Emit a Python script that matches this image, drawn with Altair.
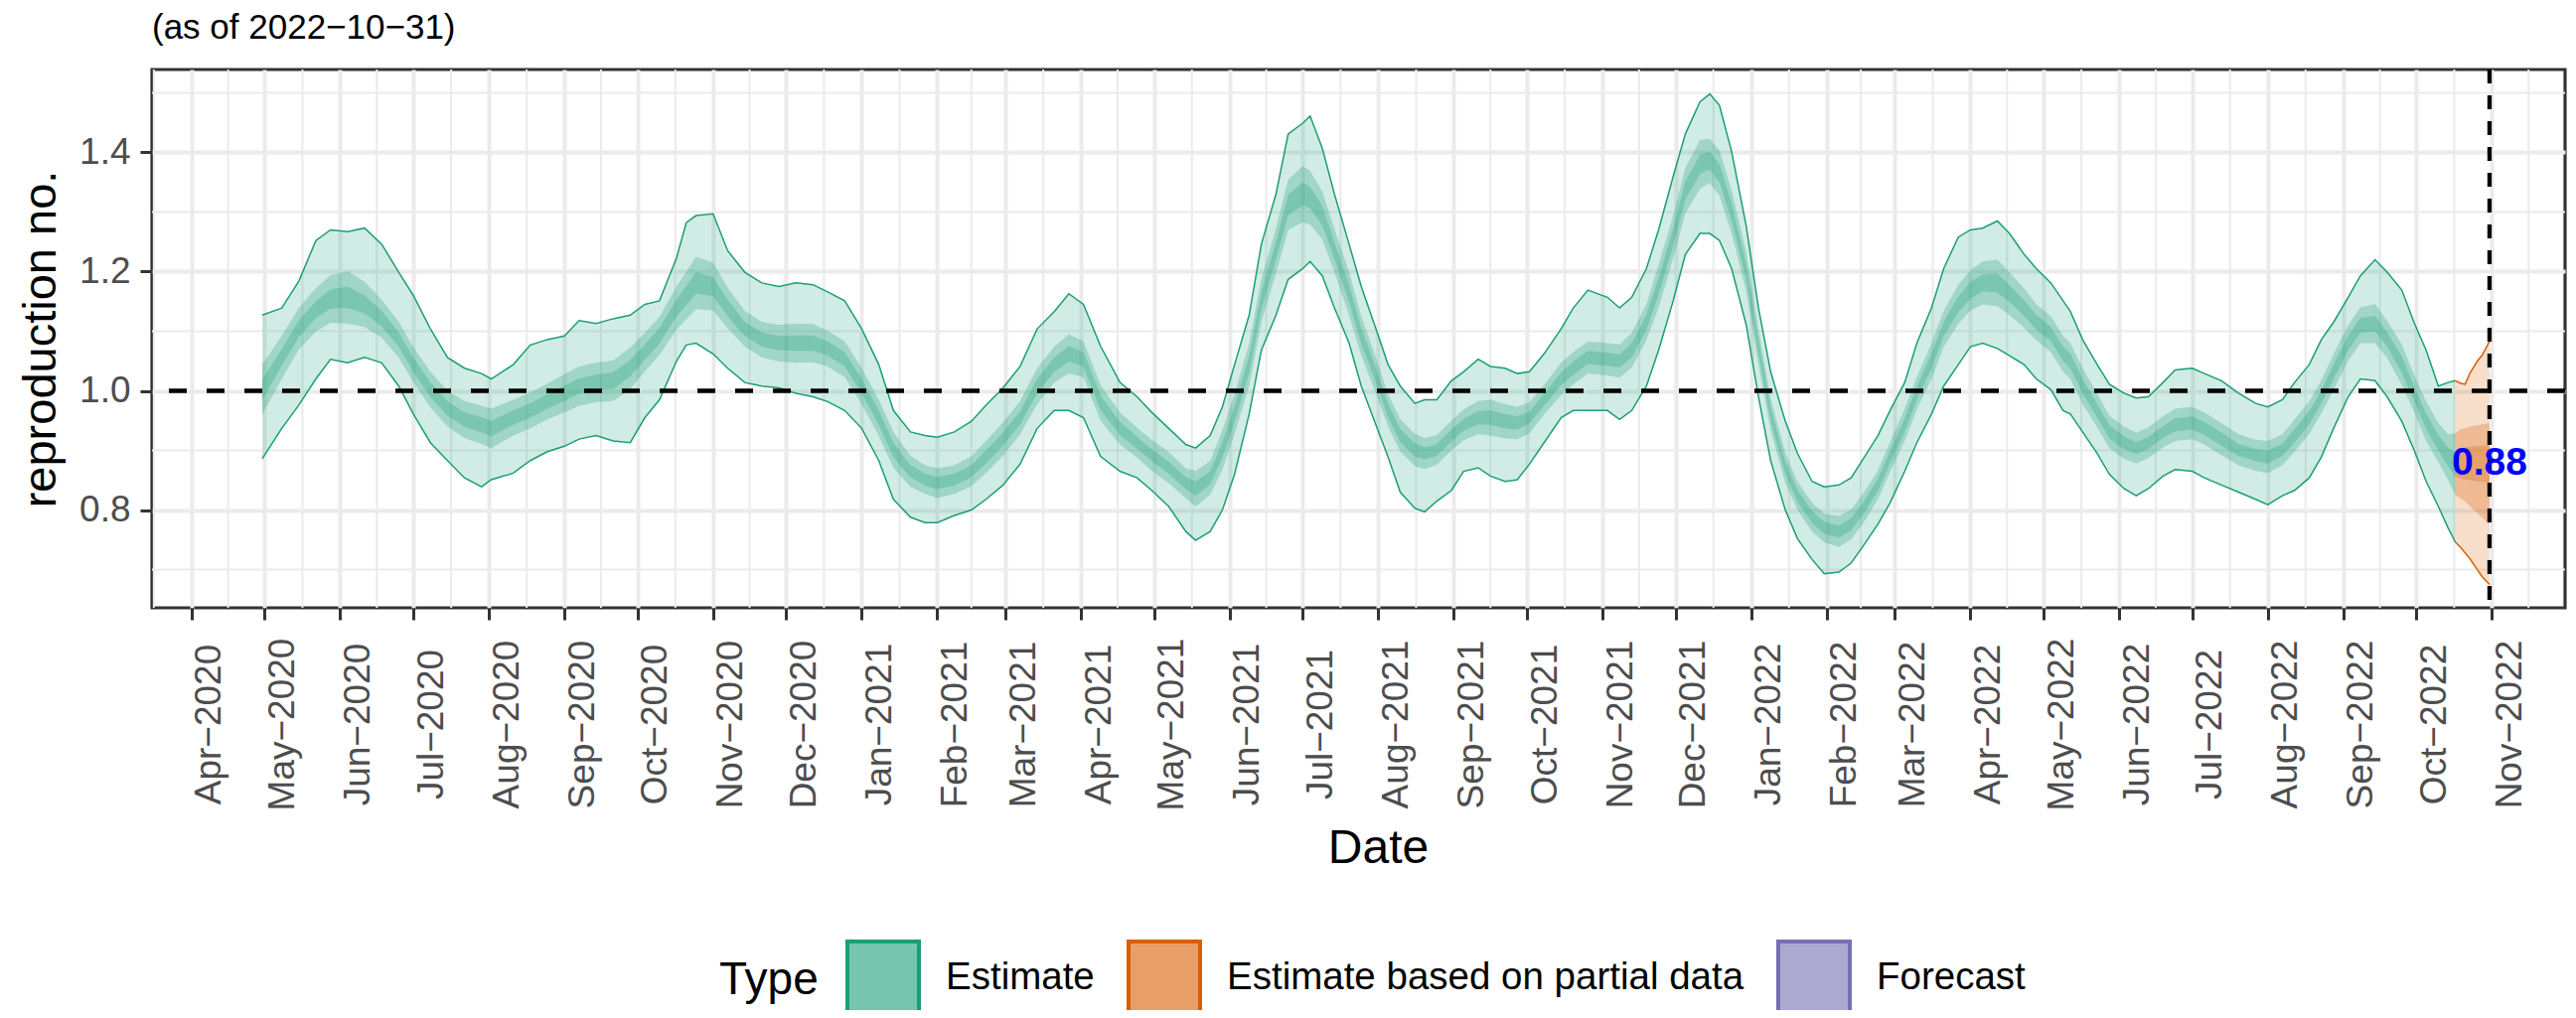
import altair as alt
import pandas as pd

TYPES = ["Estimate", "Estimate based on partial data", "Forecast"]
TYPE_COLORS = ["#1B9E77", "#D95F02", "#7570B3"]
TYPE_KEY_FILLS = ["#76C5AD", "#E89F67", "#ACA9D1"]

est_dates = [
"2020-04-30","2020-05-08","2020-05-15","2020-05-22","2020-05-28","2020-06-04","2020-06-11","2020-06-18","2020-06-25","2020-07-01",
"2020-07-08","2020-07-15","2020-07-22","2020-07-29","2020-08-02","2020-08-11","2020-08-18","2020-08-25","2020-09-01","2020-09-07",
"2020-09-14","2020-09-21","2020-09-28","2020-10-04","2020-10-10","2020-10-17","2020-10-21","2020-10-25","2020-11-01","2020-11-07",
"2020-11-14","2020-11-21","2020-11-28","2020-12-05","2020-12-12","2020-12-18","2020-12-25","2021-01-01","2021-01-08","2021-01-14",
"2021-01-21","2021-01-27","2021-02-01","2021-02-08","2021-02-15","2021-02-21","2021-02-28","2021-03-07","2021-03-14","2021-03-21",
"2021-03-27","2021-04-02","2021-04-09","2021-04-17","2021-04-24","2021-04-30","2021-05-07","2021-05-14","2021-05-18","2021-05-24",
"2021-05-29","2021-06-03","2021-06-09","2021-06-14","2021-06-20","2021-06-25","2021-07-01","2021-07-04","2021-07-09","2021-07-14",
"2021-07-20","2021-07-25","2021-07-31","2021-08-05","2021-08-10","2021-08-16","2021-08-20","2021-08-25","2021-08-31","2021-09-05",
"2021-09-11","2021-09-16","2021-09-22","2021-09-27","2021-10-02","2021-10-08","2021-10-15","2021-10-20","2021-10-26","2021-11-03",
"2021-11-08","2021-11-13","2021-11-19","2021-11-24","2021-11-30","2021-12-05","2021-12-11","2021-12-15","2021-12-19","2021-12-24",
"2021-12-30","2022-01-04","2022-01-09","2022-01-15","2022-01-20","2022-01-26","2022-01-31","2022-02-06","2022-02-11","2022-02-16",
"2022-02-22","2022-02-27","2022-03-05","2022-03-10","2022-03-16","2022-03-21","2022-03-27","2022-04-01","2022-04-06","2022-04-12",
"2022-04-17","2022-04-23","2022-04-28","2022-05-04","2022-05-09","2022-05-12","2022-05-17","2022-05-23","2022-05-28","2022-06-03",
"2022-06-08","2022-06-13","2022-06-19","2022-06-24","2022-07-01","2022-07-06","2022-07-13","2022-07-20","2022-07-27","2022-08-01",
"2022-08-07","2022-08-12","2022-08-18","2022-08-23","2022-08-28","2022-09-03","2022-09-08","2022-09-14","2022-09-19","2022-09-25",
"2022-09-30","2022-10-05","2022-10-10","2022-10-14","2022-10-17"]

est_med = [
1.002,1.056,1.104,1.136,1.154,1.157,1.145,1.121,1.086,1.044,
1.002,0.970,0.952,0.943,0.937,0.955,0.967,0.982,0.996,1.008,
1.014,1.017,1.038,1.065,1.092,1.139,1.160,1.181,1.175,1.139,
1.104,1.086,1.080,1.080,1.080,1.071,1.053,1.008,0.955,0.901,
0.865,0.851,0.845,0.851,0.865,0.889,0.919,0.955,1.008,1.044,
1.062,1.053,0.980,0.937,0.913,0.892,0.871,0.845,0.836,0.854,
0.901,0.961,1.044,1.151,1.235,1.312,1.330,1.324,1.294,1.235,
1.163,1.092,1.026,0.967,0.925,0.901,0.895,0.901,0.925,0.943,
0.955,0.955,0.949,0.946,0.955,0.985,1.020,1.038,1.056,1.053,
1.050,1.068,1.115,1.175,1.258,1.336,1.380,1.386,1.365,1.300,
1.199,1.074,0.961,0.871,0.824,0.788,0.770,0.764,0.776,0.803,
0.842,0.889,0.943,0.996,1.050,1.104,1.145,1.169,1.181,1.181,
1.163,1.139,1.115,1.095,1.062,1.050,1.008,0.967,0.931,0.913,
0.904,0.913,0.931,0.943,0.946,0.937,0.919,0.901,0.892,0.889,
0.901,0.925,0.955,0.990,1.032,1.080,1.110,1.113,1.086,1.044,
0.996,0.949,0.913,0.889,0.877]

est_lo90 = [
0.886,0.937,0.976,1.020,1.053,1.047,1.056,1.047,1.008,0.961,
0.913,0.883,0.854,0.839,0.851,0.862,0.883,0.898,0.907,0.919,
0.925,0.916,0.913,0.955,0.985,1.050,1.077,1.080,1.062,1.038,
1.014,1.008,1.005,0.996,0.990,0.982,0.967,0.937,0.883,0.818,
0.788,0.779,0.779,0.791,0.800,0.818,0.842,0.877,0.937,0.967,
0.967,0.955,0.890,0.865,0.854,0.833,0.806,0.764,0.749,0.764,
0.800,0.860,0.961,1.068,1.127,1.187,1.205,1.217,1.193,1.139,
1.080,1.008,0.943,0.889,0.830,0.803,0.797,0.815,0.833,0.865,
0.871,0.857,0.848,0.851,0.877,0.913,0.955,0.967,0.967,0.967,
0.952,0.967,1.008,1.068,1.151,1.229,1.264,1.264,1.252,1.205,
1.110,0.990,0.883,0.800,0.752,0.717,0.693,0.696,0.711,0.740,
0.776,0.812,0.865,0.913,0.961,1.008,1.044,1.074,1.080,1.071,
1.059,1.044,1.020,1.002,0.967,0.961,0.931,0.895,0.860,0.836,
0.824,0.836,0.857,0.868,0.865,0.854,0.842,0.830,0.818,0.809,
0.824,0.833,0.854,0.889,0.937,0.990,1.020,1.017,0.990,0.949,
0.901,0.848,0.806,0.770,0.746]

est_hi90 = [
1.127,1.139,1.184,1.252,1.270,1.267,1.273,1.246,1.199,1.160,
1.104,1.056,1.038,1.029,1.020,1.044,1.077,1.086,1.092,1.118,
1.113,1.121,1.127,1.145,1.151,1.223,1.282,1.294,1.297,1.235,
1.199,1.181,1.175,1.181,1.178,1.166,1.151,1.104,1.044,0.967,
0.931,0.925,0.922,0.931,0.949,0.976,1.005,1.041,1.104,1.133,
1.163,1.145,1.075,1.014,0.990,0.964,0.937,0.910,0.904,0.925,
0.973,1.044,1.127,1.246,1.330,1.431,1.449,1.461,1.407,1.330,
1.246,1.175,1.104,1.044,1.008,0.979,0.985,0.985,1.017,1.032,
1.053,1.041,1.038,1.029,1.032,1.062,1.104,1.139,1.169,1.157,
1.139,1.157,1.205,1.270,1.360,1.431,1.485,1.498,1.479,1.401,
1.276,1.139,1.032,0.949,0.895,0.848,0.839,0.842,0.854,0.886,
0.925,0.967,1.014,1.080,1.139,1.205,1.258,1.270,1.273,1.285,
1.264,1.229,1.205,1.181,1.151,1.133,1.086,1.044,1.011,0.996,
0.988,0.990,1.014,1.035,1.038,1.029,1.017,0.996,0.979,0.973,
0.985,1.014,1.044,1.086,1.115,1.157,1.193,1.220,1.199,1.169,
1.115,1.068,1.008,1.014,1.017]

est_lo50 = [
0.960,1.020,1.069,1.100,1.114,1.113,1.107,1.089,1.056,1.015,
0.972,0.940,0.921,0.911,0.904,0.925,0.937,0.952,0.964,0.975,
0.981,0.983,1.003,1.033,1.060,1.103,1.120,1.137,1.135,1.105,
1.074,1.056,1.049,1.047,1.048,1.041,1.023,0.978,0.925,0.871,
0.839,0.827,0.820,0.827,0.840,0.862,0.891,0.927,0.978,1.014,
1.029,1.023,0.950,0.910,0.888,0.866,0.845,0.820,0.806,0.826,
0.868,0.928,1.008,1.115,1.197,1.270,1.283,1.279,1.254,1.199,
1.127,1.059,0.996,0.940,0.898,0.874,0.869,0.876,0.900,0.917,
0.927,0.925,0.920,0.919,0.929,0.960,0.993,1.011,1.029,1.026,
1.022,1.039,1.085,1.139,1.222,1.298,1.339,1.349,1.327,1.264,
1.166,1.044,0.934,0.846,0.800,0.764,0.746,0.738,0.751,0.778,
0.818,0.864,0.916,0.969,1.020,1.074,1.112,1.135,1.145,1.142,
1.127,1.106,1.085,1.065,1.032,1.020,0.978,0.939,0.904,0.886,
0.878,0.887,0.905,0.916,0.919,0.910,0.892,0.875,0.866,0.862,
0.875,0.898,0.928,0.962,1.002,1.050,1.080,1.080,1.055,1.010,
0.965,0.916,0.880,0.851,0.825]

est_hi50 = [
1.044,1.092,1.139,1.172,1.194,1.201,1.183,1.153,1.116,1.073,
1.032,1.000,0.983,0.975,0.970,0.985,0.997,1.012,1.028,1.041,
1.047,1.051,1.073,1.097,1.124,1.175,1.200,1.225,1.215,1.173,
1.134,1.116,1.111,1.113,1.112,1.101,1.083,1.038,0.985,0.931,
0.891,0.875,0.870,0.875,0.890,0.916,0.947,0.983,1.038,1.074,
1.095,1.083,1.010,0.964,0.938,0.918,0.897,0.870,0.866,0.882,
0.934,0.994,1.080,1.187,1.273,1.354,1.377,1.369,1.334,1.271,
1.199,1.125,1.056,0.994,0.952,0.928,0.921,0.926,0.950,0.969,
0.983,0.985,0.978,0.973,0.981,1.010,1.047,1.065,1.083,1.080,
1.078,1.097,1.145,1.211,1.294,1.374,1.421,1.423,1.403,1.336,
1.232,1.104,0.988,0.896,0.848,0.812,0.794,0.790,0.801,0.828,
0.866,0.914,0.970,1.023,1.080,1.134,1.178,1.203,1.217,1.220,
1.199,1.172,1.145,1.125,1.092,1.080,1.038,0.995,0.958,0.940,
0.930,0.939,0.957,0.970,0.973,0.964,0.946,0.927,0.918,0.916,
0.927,0.952,0.982,1.018,1.062,1.110,1.140,1.146,1.117,1.078,
1.027,0.982,0.946,0.927,0.929]

est_lo20 = [
0.985,1.042,1.090,1.122,1.138,1.139,1.130,1.108,1.074,1.032,
0.990,0.958,0.940,0.930,0.924,0.943,0.955,0.970,0.983,0.995,
1.001,1.003,1.024,1.052,1.079,1.125,1.144,1.163,1.159,1.125,
1.092,1.074,1.068,1.067,1.067,1.059,1.041,0.996,0.943,0.889,
0.855,0.841,0.835,0.841,0.855,0.878,0.908,0.944,0.996,1.032,
1.049,1.041,0.968,0.926,0.903,0.882,0.861,0.835,0.824,0.843,
0.888,0.948,1.030,1.137,1.220,1.295,1.311,1.306,1.278,1.221,
1.149,1.079,1.014,0.956,0.914,0.890,0.885,0.891,0.915,0.933,
0.944,0.943,0.937,0.935,0.945,0.975,1.009,1.027,1.045,1.042,
1.039,1.056,1.103,1.161,1.244,1.321,1.364,1.371,1.350,1.286,
1.186,1.062,0.950,0.861,0.814,0.778,0.760,0.754,0.766,0.793,
0.832,0.879,0.932,0.985,1.038,1.092,1.132,1.155,1.167,1.165,
1.149,1.126,1.103,1.083,1.050,1.038,0.996,0.956,0.920,0.902,
0.894,0.903,0.921,0.932,0.935,0.926,0.908,0.891,0.882,0.878,
0.891,0.914,0.944,0.979,1.020,1.068,1.098,1.100,1.074,1.030,
0.984,0.936,0.900,0.874,0.856]

est_hi20 = [
1.019,1.070,1.118,1.150,1.170,1.175,1.160,1.134,1.098,1.056,
1.014,0.982,0.964,0.956,0.950,0.967,0.979,0.994,1.009,1.021,
1.027,1.031,1.052,1.078,1.105,1.153,1.176,1.199,1.191,1.153,
1.116,1.098,1.092,1.093,1.093,1.083,1.065,1.020,0.967,0.913,
0.875,0.861,0.855,0.861,0.875,0.900,0.930,0.966,1.020,1.056,
1.075,1.065,0.992,0.948,0.923,0.902,0.881,0.855,0.848,0.865,
0.914,0.974,1.058,1.165,1.250,1.329,1.349,1.342,1.310,1.249,
1.177,1.105,1.038,0.978,0.936,0.912,0.905,0.911,0.935,0.953,
0.966,0.967,0.961,0.957,0.965,0.995,1.031,1.049,1.067,1.064,
1.061,1.080,1.127,1.189,1.272,1.351,1.396,1.401,1.380,1.314,
1.212,1.086,0.972,0.881,0.834,0.798,0.780,0.774,0.786,0.813,
0.852,0.899,0.954,1.007,1.062,1.116,1.158,1.183,1.195,1.197,
1.177,1.152,1.127,1.107,1.074,1.062,1.020,0.978,0.942,0.924,
0.914,0.923,0.941,0.954,0.957,0.948,0.930,0.911,0.902,0.900,
0.911,0.936,0.966,1.001,1.044,1.092,1.122,1.126,1.098,1.058,
1.008,0.962,0.926,0.904,0.898]

part_dates = ["2022-10-17","2022-10-19","2022-10-21","2022-10-23","2022-10-26","2022-10-28","2022-10-31"]
part_med  = [0.877,0.879,0.879,0.878,0.878,0.877,0.877]
part_lo90 = [0.746,0.738,0.728,0.718,0.700,0.688,0.675]
part_hi90 = [1.017,1.013,1.011,1.030,1.050,1.060,1.083]
part_lo50 = [0.825,0.820,0.814,0.806,0.795,0.787,0.776]
part_hi50 = [0.929,0.935,0.937,0.940,0.942,0.944,0.946]
part_lo20 = [0.856,0.853,0.851,0.850,0.848,0.847,0.846]
part_hi20 = [0.898,0.904,0.905,0.906,0.907,0.908,0.908]

AS_OF = "2022-10-31"
LATEST_LABEL = "0.88"
LATEST_VALUE = 0.88
Y_MAJOR = [0.8, 1.0, 1.2, 1.4]
Y_MINOR = [0.7, 0.9, 1.1, 1.3, 1.5]
X_START = "2020-03-15 18:00"
X_END = "2022-12-01 00:00"
Y_DOMAIN = [0.636, 1.539]

def ms(ts):
    return int(pd.Timestamp(ts).value // 10**6)

est = pd.DataFrame({"date": est_dates, "type": TYPES[0], "med": est_med,
                    "lo90": est_lo90, "hi90": est_hi90, "lo50": est_lo50, "hi50": est_hi50,
                    "lo20": est_lo20, "hi20": est_hi20})
part = pd.DataFrame({"date": part_dates, "type": TYPES[1], "med": part_med,
                     "lo90": part_lo90, "hi90": part_hi90, "lo50": part_lo50, "hi50": part_hi50,
                     "lo20": part_lo20, "hi20": part_hi20})
df = pd.concat([est, part], ignore_index=True)

months = pd.date_range("2020-03-01", "2022-12-01", freq="MS")
major_ticks = [ms(m) for m in months if pd.Timestamp("2020-04-01") <= m <= pd.Timestamp("2022-11-01")]
mids = [months[i] + (months[i + 1] - months[i]) / 2 for i in range(len(months) - 1)]
minor_x = pd.DataFrame({"date": [ms(m) for m in mids]})
minor_y = pd.DataFrame({"value": Y_MINOR})

FONT = "Liberation Sans"
x_scale = alt.Scale(type="utc", domain=[ms(X_START), ms(X_END)], nice=False)
y_scale = alt.Scale(domain=Y_DOMAIN, nice=False, zero=False)
# colour scale of the drawn bands (only the two types that have data)
band_scale = alt.Scale(domain=TYPES[:2], range=TYPE_COLORS[:2])
# colour scales of the legend keys (all three types): light fill, full-colour border
key_fill_scale = alt.Scale(domain=TYPES, range=TYPE_KEY_FILLS)
key_stroke_scale = alt.Scale(domain=TYPES, range=TYPE_COLORS)

x_axis = alt.Axis(values=major_ticks, labelExpr="utcFormat(datum.value, '%b\u2212%Y')",
                  labelAngle=270, labelAlign="center", labelBaseline="top", labelPadding=105,
                  labelFontSize=37, labelColor="#4D4D4D", labelFont=FONT,
                  labelOverlap=False, labelFlush=False, labelBound=False, labelLimit=600,
                  tickSize=12, tickWidth=3, tickColor="#333333",
                  grid=True, gridColor="#EBEBEB", gridWidth=4, domain=False,
                  title="Date", titleFontSize=48, titleFontWeight="normal", titleColor="black",
                  titleFont=FONT, titleX=1234, titleY=256, titleAlign="center",
                  titleBaseline="alphabetic")
y_axis = alt.Axis(values=Y_MAJOR, format=".1f", labelFontSize=37, labelColor="#4D4D4D",
                  labelFont=FONT, labelPadding=10, tickSize=12, tickWidth=3, tickColor="#333333",
                  grid=True, gridColor="#EBEBEB", gridWidth=4, domain=False,
                  title="reproduction no.", titleFontSize=47, titleFontWeight="normal",
                  titleColor="black", titleFont=FONT, titleX=-98, titleY=271, titleAngle=270,
                  titleAlign="center", titleBaseline="alphabetic")

def X(field="date"):
    return alt.X(f"{field}:T", scale=x_scale, axis=x_axis)

def Y(field):
    return alt.Y(f"{field}:Q", scale=y_scale, axis=y_axis)

col = alt.Color("type:N", scale=band_scale, legend=None)

base = alt.Chart(df)

minor_x_layer = alt.Chart(minor_x).mark_rule(color="#EBEBEB", strokeWidth=2).encode(x=X())
minor_y_layer = alt.Chart(minor_y).mark_rule(color="#EBEBEB", strokeWidth=2).encode(y=Y("value"))

area90 = base.mark_area(opacity=0.2).encode(x=X(), y=Y("lo90"), y2="hi90", color=col)
area50 = base.mark_area(opacity=0.28).encode(x=X(), y=Y("lo50"), y2="hi50", color=col)
area20 = base.mark_area(opacity=0.28).encode(x=X(), y=Y("lo20"), y2="hi20", color=col)
line_lo = base.mark_line(strokeWidth=1.5).encode(x=X(), y=Y("lo90"), color=col)
line_hi = base.mark_line(strokeWidth=1.5).encode(x=X(), y=Y("hi90"), color=col)

hline = alt.Chart(pd.DataFrame({"value": [1.0]})).mark_rule(
    color="black", strokeWidth=4.3, strokeDash=[18, 20]).encode(y=Y("value"))
vline = alt.Chart(pd.DataFrame({"date": [AS_OF]})).mark_rule(
    color="black", strokeWidth=4.3, strokeDash=[14, 12]).encode(x=X())

label = alt.Chart(pd.DataFrame({"date": [AS_OF], "value": [LATEST_VALUE], "label": [LATEST_LABEL]})).mark_text(
    font=FONT, fontSize=39, fontWeight="bold", color="#0000FF", align="center", baseline="middle"
).encode(x=X(), y=Y("value"), text="label:N")

leg = alt.Legend(title="Type", orient="none", legendX=571, legendY=876, direction="horizontal",
                 titleOrient="left", titleAnchor="middle", titleBaseline="middle",
                 titleFontSize=46, titleFontWeight="normal", titleColor="black", titleFont=FONT,
                 titlePadding=27, labelFontSize=38.5, labelColor="black", labelFont=FONT,
                 labelOffset=25, labelLimit=1000, columnPadding=26, padding=0,
                 symbolType="square", symbolSize=5184, symbolStrokeWidth=4, symbolOpacity=1)
# invisible copy of the outer band that only carries the legend
legend_layer = base.mark_area(
    opacity=0, fillOpacity=1, strokeWidth=4, strokeOpacity=1
).encode(x=X(), y=Y("lo90"), y2="hi90",
         fill=alt.Fill("type:N", scale=key_fill_scale, legend=leg),
         stroke=alt.Stroke("type:N", scale=key_stroke_scale, legend=leg))

chart = alt.layer(minor_x_layer, minor_y_layer, area90, area50, area20, line_lo, line_hi,
                  hline, vline, label, legend_layer).properties(
    width=2429, height=542,
    title=alt.TitleParams(text="(as of 2022\u221210\u221231)", anchor="start", frame="group",
                          fontSize=35, fontWeight="normal", color="black", font=FONT,
                          offset=-6, baseline="alphabetic"),
    padding={"left": 145, "top": 62, "right": 3, "bottom": 405},
    autosize=alt.AutoSizeParams(type="none"),
).configure(font=FONT, background="white").configure_view(stroke="#333333", strokeWidth=3.2)

chart.save("out.html", embed_options={"renderer": "svg", "actions": False})
